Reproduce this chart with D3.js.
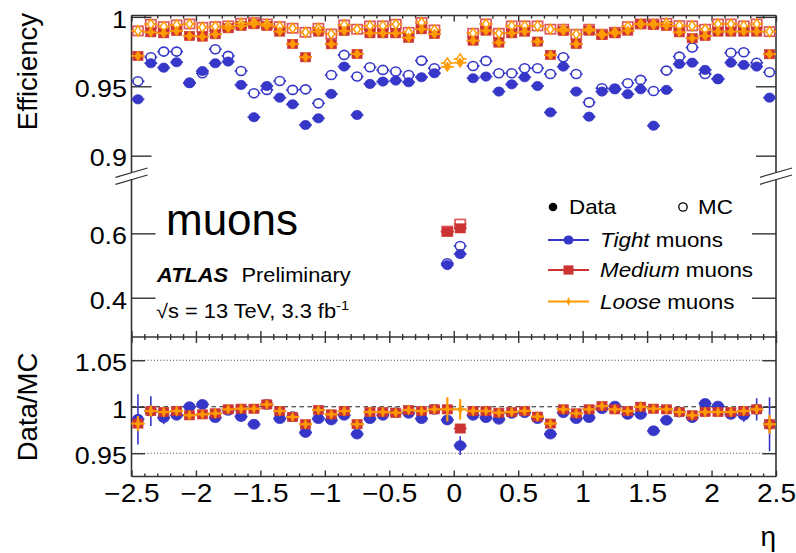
<!DOCTYPE html>
<html>
<head>
<meta charset="utf-8">
<script src="https://cdn.jsdelivr.net/npm/d3@7"></script>
<style>
  body { margin: 0; background: #fff; }
  svg text { font-family: "Liberation Sans", Arial, Helvetica, sans-serif; fill: #000; }
</style>
</head>
<body>
<svg id="chart" width="796" height="553"></svg>
<script>
// ---- data: muon reconstruction efficiency vs eta, bins of 0.1 ----
const etaBins = [-2.45,-2.35,-2.25,-2.15,-2.05,-1.95,-1.85,-1.75,-1.65,-1.55,
                 -1.45,-1.35,-1.25,-1.15,-1.05,-0.95,-0.85,-0.75,-0.65,-0.55,
                 -0.45,-0.35,-0.25,-0.15,-0.05, 0.05, 0.15, 0.25, 0.35, 0.45,
                  0.55, 0.65, 0.75, 0.85, 0.95, 1.05, 1.15, 1.25, 1.35, 1.45,
                  1.55, 1.65, 1.75, 1.85, 1.95, 2.05, 2.15, 2.25, 2.35, 2.45];

const tightData = [0.9406,0.9666,0.9634,0.9673,0.9522,0.9610,0.9666,0.9678,0.9510,0.9277,
                   0.9502,0.9418,0.9370,0.9221,0.9269,0.9445,0.9642,0.9293,0.9517,0.9534,
                   0.9541,0.9529,0.9565,0.9594,0.5016,0.5357,0.9558,0.9570,0.9462,0.9514,
                   0.9565,0.9502,0.9312,0.9642,0.9462,0.9281,0.9462,0.9478,0.9443,0.9478,
                   0.9216,0.9474,0.9661,0.9670,0.9618,0.9553,0.9670,0.9654,0.9642,0.9418];
const tightMC   = [0.9536,0.9709,0.9750,0.9750,0.9526,0.9594,0.9767,0.9719,0.9610,0.9450,
                   0.9474,0.9538,0.9474,0.9478,0.9377,0.9581,0.9726,0.9570,0.9637,0.9618,
                   0.9606,0.9581,0.9685,0.9630,0.5070,0.5606,0.9646,0.9683,0.9594,0.9594,
                   0.9630,0.9630,0.9589,0.9709,0.9589,0.9384,0.9486,0.9483,0.9522,0.9546,
                   0.9466,0.9613,0.9714,0.9779,0.9589,0.9553,0.9742,0.9745,0.9670,0.9601];
const mediumData = [0.9719,0.9889,0.9882,0.9899,0.9863,0.9858,0.9875,0.9918,0.9935,0.9947,
                    0.9935,0.9894,0.9805,0.9709,0.9894,0.9803,0.9899,0.9733,0.9882,0.9882,
                    0.9882,0.9850,0.9911,0.9877,0.6050,0.6155,0.9829,0.9901,0.9815,0.9882,
                    0.9894,0.9822,0.9726,0.9899,0.9805,0.9901,0.9870,0.9882,0.9901,0.9949,
                    0.9942,0.9935,0.9889,0.9846,0.9863,0.9894,0.9894,0.9894,0.9894,0.9731];
const mediumMC   = [0.9899,0.9947,0.9930,0.9942,0.9949,0.9925,0.9930,0.9935,0.9954,0.9959,
                    0.9949,0.9930,0.9918,0.9889,0.9918,0.9877,0.9942,0.9911,0.9935,0.9935,
                    0.9947,0.9889,0.9959,0.9906,0.6070,0.6290,0.9882,0.9949,0.9882,0.9935,
                    0.9935,0.9935,0.9911,0.9911,0.9875,0.9911,0.9875,0.9889,0.9930,0.9949,
                    0.9949,0.9954,0.9937,0.9935,0.9911,0.9949,0.9949,0.9935,0.9949,0.9894];
const looseData  = [0.9719,0.9889,0.9882,0.9899,0.9863,0.9858,0.9875,0.9918,0.9935,0.9947,
                    0.9935,0.9894,0.9805,0.9709,0.9894,0.9803,0.9899,0.9733,0.9882,0.9882,
                    0.9882,0.9850,0.9911,0.9877,0.9640,0.9670,0.9829,0.9901,0.9815,0.9882,
                    0.9894,0.9822,0.9726,0.9899,0.9805,0.9901,0.9870,0.9882,0.9901,0.9949,
                    0.9942,0.9935,0.9889,0.9846,0.9863,0.9894,0.9894,0.9894,0.9894,0.9731];
const looseMC    = [0.9899,0.9947,0.9930,0.9942,0.9949,0.9925,0.9930,0.9935,0.9954,0.9959,
                    0.9949,0.9930,0.9918,0.9889,0.9918,0.9877,0.9942,0.9911,0.9935,0.9935,
                    0.9947,0.9889,0.9959,0.9906,0.9668,0.9697,0.9882,0.9949,0.9882,0.9935,
                    0.9935,0.9935,0.9911,0.9911,0.9875,0.9911,0.9875,0.9889,0.9930,0.9949,
                    0.9949,0.9954,0.9937,0.9935,0.9911,0.9949,0.9949,0.9935,0.9949,0.9894];

// Data/MC scale factors
const tightRatio  = [0.9865,0.9954,0.9883,0.9908,1.0000,1.0025,0.9883,0.9961,0.9894,0.9812,
                     1.0025,0.9872,0.9894,0.9723,0.9872,0.9858,0.9908,0.9706,0.9872,0.9908,
                     0.9936,0.9929,0.9872,0.9972,0.9858,0.9582,0.9908,0.9883,0.9865,0.9929,
                     0.9936,0.9872,0.9706,0.9936,0.9872,0.9883,0.9979,1.0007,0.9918,0.9918,
                     0.9741,0.9855,0.9943,0.9883,1.0035,1.0007,0.9918,0.9908,0.9972,0.9812];
const mediumRatio = [0.9819,0.9954,0.9943,0.9954,0.9908,0.9918,0.9929,0.9972,0.9979,0.9979,
                     1.0025,0.9954,0.9890,0.9812,0.9965,0.9918,0.9954,0.9812,0.9943,0.9943,
                     0.9936,0.9965,0.9954,0.9972,0.9972,0.9766,0.9954,0.9954,0.9936,0.9943,
                     0.9954,0.9894,0.9819,0.9972,0.9929,0.9972,1.0007,0.9972,0.9954,1.0000,
                     0.9979,0.9972,0.9943,0.9908,0.9943,0.9943,0.9943,0.9954,0.9972,0.9812];
const looseRatio  = [0.9819,0.9954,0.9943,0.9954,0.9908,0.9918,0.9929,0.9972,0.9979,0.9979,
                     1.0025,0.9954,0.9890,0.9812,0.9965,0.9918,0.9954,0.9812,0.9943,0.9943,
                     0.9936,0.9965,0.9954,0.9972,0.9972,0.9972,0.9954,0.9954,0.9936,0.9943,
                     0.9954,0.9894,0.9819,0.9972,0.9929,0.9972,1.0007,0.9972,0.9954,1.0000,
                     0.9979,0.9972,0.9943,0.9908,0.9943,0.9943,0.9943,0.9954,0.9972,0.9812];
// statistical uncertainties on the scale factors
const tightRatioErr  = [0.027,0.016,0.007,0.005,0.003,0.003,0.003,0.003,0.003,0.003,
                        0.003,0.003,0.003,0.003,0.003,0.003,0.003,0.003,0.003,0.003,
                        0.003,0.003,0.003,0.003,0.005,0.010,0.003,0.003,0.003,0.003,
                        0.003,0.003,0.003,0.003,0.003,0.003,0.003,0.003,0.003,0.003,
                        0.003,0.003,0.003,0.003,0.003,0.003,0.004,0.007,0.012,0.029];
const mediumRatioErr = [0.008,0.005,0.002,0.002,0.002,0.002,0.002,0.002,0.002,0.002,
                        0.002,0.002,0.002,0.002,0.002,0.002,0.002,0.002,0.002,0.002,
                        0.002,0.002,0.002,0.002,0.003,0.003,0.002,0.002,0.002,0.002,
                        0.002,0.002,0.002,0.002,0.002,0.002,0.002,0.002,0.002,0.002,
                        0.002,0.002,0.002,0.002,0.002,0.002,0.002,0.002,0.004,0.009];
const looseRatioErr  = [0.008,0.006,0.002,0.002,0.002,0.002,0.002,0.002,0.002,0.002,
                        0.002,0.002,0.002,0.002,0.002,0.002,0.002,0.002,0.002,0.002,
                        0.002,0.002,0.002,0.002,0.013,0.011,0.002,0.002,0.002,0.002,
                        0.002,0.002,0.002,0.002,0.002,0.002,0.002,0.002,0.002,0.002,
                        0.002,0.002,0.002,0.002,0.002,0.002,0.002,0.002,0.005,0.010];

const binHalfWidth = 0.05;
const xMajorTicks = [-2.5,-2,-1.5,-1,-0.5,0,0.5,1,1.5,2,2.5];
const xTickLabels = ["\u22122.5","\u22122","\u22121.5","\u22121","\u22120.5","0","0.5","1","1.5","2","2.5"];
const yHiTicks = [0.9, 0.95, 1];
const yHiLabels = ["0.9", "0.95", "1"];
const yLoTicks = [0.4, 0.6];
const yLoLabels = ["0.4", "0.6"];
const yRatioTicks = [0.95, 1, 1.05];
const yRatioLabels = ["0.95", "1", "1.05"];

// ---- layout ----
const svg = d3.select("#chart");
const L = 131.5, R = 776, TOP = 15.5, MID = 337, BOT = 476.5;
const breakHi = 172.6, breakLo = 179.7;
const frameColor = "#333";
const SX = 1.12; // horizontal stretch of the label lettering

const blue = "#3636c8", red = "#cc3333", redOpen = "#dd5a5a", orange = "#ff9a00";

const x = d3.scaleLinear().domain([-2.5, 2.5]).range([L, R]);
const yHi = d3.scaleLinear().domain([0.886, 1.001]).range([175.1, TOP]);
const yLo = d3.scaleLinear().domain([0.278, 0.772]).range([MID, 178]);
const yR  = d3.scaleLinear().domain([0.925, 1.075]).range([BOT, MID]);
const yEff = v => (v > 0.8 ? yHi(v) : yLo(v));

const minorTicks = d3.range(-25, 26).map(i => i / 10).filter(v => Math.abs(v * 2 - Math.round(v * 2)) > 1e-6);

function stretch(sel) {
  sel.each(function () {
    const t = d3.select(this);
    const tx = +t.attr("x") || 0, ty = +t.attr("y") || 0;
    t.attr("x", 0).attr("y", 0).attr("transform", `translate(${tx},${ty}) scale(${SX},1)`);
  });
}
function styleAxis(g) {
  g.select(".domain").remove();
  g.selectAll(".tick line").attr("stroke", frameColor).attr("stroke-width", 1.4);
}

// ---- ratio panel reference lines ----
const gRef = svg.append("g");
[0.95, 1.05].forEach(v => {
  gRef.append("line").attr("x1", L).attr("x2", R).attr("y1", yR(v)).attr("y2", yR(v))
    .attr("stroke", "#444").attr("stroke-width", 1).attr("stroke-dasharray", "1,2.2");
});
gRef.append("line").attr("x1", L).attr("x2", R).attr("y1", yR(1)).attr("y2", yR(1))
  .attr("stroke", "#222").attr("stroke-width", 1.2).attr("stroke-dasharray", "4.5,3.5");

// ---- x tick marks on every horizontal edge ----
function xEdge(y, down) {
  const make = down ? d3.axisBottom : d3.axisTop;
  svg.append("g").attr("transform", `translate(0,${y})`)
    .call(make(x).tickValues(minorTicks).tickSize(3).tickFormat("")).call(styleAxis);
  svg.append("g").attr("transform", `translate(0,${y})`)
    .call(make(x).tickValues(xMajorTicks).tickSize(6).tickFormat("")).call(styleAxis);
}
xEdge(TOP, true);
xEdge(MID, false);
xEdge(MID, true);
xEdge(BOT, false);

// x tick labels
svg.append("g").attr("transform", `translate(0,${BOT})`)
  .call(d3.axisBottom(x).tickValues(xMajorTicks).tickSize(0).tickPadding(7.8)
    .tickFormat((d, i) => xTickLabels[i]))
  .call(g => g.select(".domain").remove())
  .call(g => g.selectAll("text").attr("font-size", 25).attr("font-family", "Liberation Sans, Arial, sans-serif").attr("fill", "#000").call(stretch));

// ---- y axes ----
function yAxisPair(scale, ticks, labels, len, fontSize) {
  svg.append("g").attr("transform", `translate(${L},0)`)
    .call(d3.axisLeft(scale).tickValues(ticks).tickSize(-len).tickPadding(4.5)
      .tickFormat((d, i) => labels[i]))
    .call(styleAxis)
    .call(g => g.selectAll("text").attr("font-size", fontSize).attr("dy", null)
      .attr("font-family", "Liberation Sans, Arial, sans-serif").attr("fill", "#000")
      .attr("y", 10.3).call(stretch));
  svg.append("g").attr("transform", `translate(${R},0)`)
    .call(d3.axisRight(scale).tickValues(ticks).tickSize(-len).tickFormat(""))
    .call(styleAxis);
}
yAxisPair(yHi, yHiTicks, yHiLabels, 20, 24);
yAxisPair(yLo, yLoTicks, yLoLabels, 24, 24);
yAxisPair(yR, yRatioTicks, yRatioLabels, 13.5, 24);

// ---- frames with axis breaks ----
const gFrame = svg.append("g").attr("stroke", frameColor).attr("stroke-width", 1.6).attr("fill", "none");
gFrame.append("line").attr("x1", L).attr("x2", R).attr("y1", TOP).attr("y2", TOP);
gFrame.append("line").attr("x1", L).attr("x2", R).attr("y1", MID).attr("y2", MID);
gFrame.append("line").attr("x1", L).attr("x2", R).attr("y1", BOT).attr("y2", BOT);
[L, R].forEach(xx => {
  gFrame.append("line").attr("x1", xx).attr("x2", xx).attr("y1", TOP).attr("y2", breakHi);
  gFrame.append("line").attr("x1", xx).attr("x2", xx).attr("y1", breakLo).attr("y2", BOT);
  [[177.3, 168.0], [184.3, 175.0]].forEach(([ya, yb]) => {
    gFrame.append("line").attr("x1", xx - 16).attr("y1", ya).attr("x2", xx + 16).attr("y2", yb)
      .attr("stroke-width", 1.2);
  });
});

// ---- markers ----
function diamondPath(cx, cy, hw, hh) {
  return `M${cx},${cy - hh}L${cx + hw},${cy}L${cx},${cy + hh}L${cx - hw},${cy}Z`;
}
function drawMarkers(g, vals, yFn, kind, filled, color, opts = {}) {
  const pts = vals.map((v, i) => ({ eta: etaBins[i], v, err: opts.err ? opts.err[i] : 0 }));
  const sel = g.append("g").selectAll("g").data(pts).join("g");
  const s = opts.size || 1;
  // hollow markers leave their interior free of the bin-width bar
  const gap = filled ? 0 : (kind === "circle" ? 4.9 : kind === "square" ? 5.1 : 0) * s;
  [-1, 1].forEach(side => {
    sel.append("line")
      .attr("x1", d => x(d.eta) + side * gap)
      .attr("x2", d => x(d.eta + side * binHalfWidth))
      .attr("y1", d => yFn(d.v)).attr("y2", d => yFn(d.v))
      .attr("stroke", color).attr("stroke-width", opts.barWidth || 1.6);
  });
  // vertical uncertainty bars
  if (opts.err) {
    sel.append("line")
      .attr("x1", d => x(d.eta)).attr("x2", d => x(d.eta))
      .attr("y1", d => yFn(d.v - d.err)).attr("y2", d => yFn(d.v + d.err))
      .attr("stroke", color).attr("stroke-width", opts.barWidth || 1.6);
  }
  if (kind === "circle") {
    sel.append("ellipse").attr("cx", d => x(d.eta)).attr("cy", d => yFn(d.v))
      .attr("rx", (filled ? 5.2 : 4.9) * s).attr("ry", (filled ? 4.6 : 4.5) * s)
      .attr("fill", filled ? color : "none").attr("stroke", color).attr("stroke-width", filled ? 0.8 : 1.6);
  } else if (kind === "square") {
    const w = 10.2 * s, h = 9.2 * s;
    sel.append("rect").attr("x", d => x(d.eta) - w / 2).attr("y", d => yFn(d.v) - h / 2)
      .attr("width", w).attr("height", h)
      .attr("fill", filled ? color : "none").attr("stroke", filled ? color : redOpen)
      .attr("stroke-width", filled ? 0.6 : 1.7);
  } else {
    const hw = (opts.hw || 3.4) * s, hh = (opts.hh || 5) * s;
    sel.append("path").attr("d", d => diamondPath(x(d.eta), yFn(d.v), hw, hh))
      .attr("fill", filled ? color : "#fff").attr("stroke", color).attr("stroke-width", filled ? 0.6 : 1.5);
  }
}

// efficiency panel
const gEff = svg.append("g");
drawMarkers(gEff, tightMC, yEff, "circle", false, blue);
drawMarkers(gEff, tightData, yEff, "circle", true, blue);
drawMarkers(gEff, mediumMC, yEff, "square", false, redOpen);
drawMarkers(gEff, mediumData, yEff, "square", true, red);
drawMarkers(gEff, looseMC, yEff, "diamond", false, orange);
drawMarkers(gEff, looseData, yEff, "diamond", true, orange, { barWidth: 1.8 });

// ratio panel
const gRat = svg.append("g");
drawMarkers(gRat, tightRatio, yR, "circle", true, blue, { err: tightRatioErr, size: 1.08 });
drawMarkers(gRat, mediumRatio, yR, "square", true, red, { err: mediumRatioErr });
drawMarkers(gRat, looseRatio, yR, "diamond", true, orange, { err: looseRatioErr, barWidth: 2.2, hw: 2.2, hh: 5.2 });

// ---- axis titles ----
svg.append("text").attr("transform", "translate(37,13) rotate(-90)")
  .attr("text-anchor", "end").attr("font-size", 27.5).text("Efficiency");
svg.append("text").attr("transform", "translate(37,407) rotate(-90)")
  .attr("text-anchor", "middle").attr("font-size", 27.5).text("Data/MC");
svg.append("text").attr("x", 776).attr("y", 546).attr("text-anchor", "end")
  .attr("font-size", 28).attr("font-family", "Liberation Serif, serif").text("\u03b7");

// ---- annotations ----
svg.append("text").attr("x", 166).attr("y", 235).attr("font-size", 44)
  .attr("font-family", "Open Sans, sans-serif").text("muons");

function stretchedText(xx, yy, size) {
  return svg.append("text").attr("transform", `translate(${xx},${yy}) scale(${SX},1)`).attr("font-size", size);
}
stretchedText(157, 282, 19.5).attr("font-weight", "bold").attr("font-style", "italic").text("ATLAS");
stretchedText(241.5, 282, 19.5).text("Preliminary");
const lumi = stretchedText(156, 318, 19.5);
lumi.append("tspan").text("\u221as = 13 TeV, 3.3 fb");
lumi.append("tspan").attr("font-size", 13).attr("dy", -8).text("-1");

// ---- legend ----
const gLeg = svg.append("g");
gLeg.append("circle").attr("cx", 553).attr("cy", 207).attr("r", 4.3).attr("fill", "#000");
gLeg.append("text").attr("transform", `translate(569,213.5) scale(${SX},1)`).attr("font-size", 20).text("Data");
gLeg.append("circle").attr("cx", 683).attr("cy", 207).attr("r", 4.2).attr("fill", "none").attr("stroke", "#000").attr("stroke-width", 1.3);
gLeg.append("text").attr("transform", `translate(698,213.5) scale(${SX},1)`).attr("font-size", 20).text("MC");

const legendRows = [
  { name: "Tight", y: 240, color: blue, kind: "circle" },
  { name: "Medium", y: 270, color: red, kind: "square" },
  { name: "Loose", y: 301.5, color: orange, kind: "diamond" }
];
legendRows.forEach(r => {
  gLeg.append("line").attr("x1", 548).attr("x2", 589).attr("y1", r.y).attr("y2", r.y)
    .attr("stroke", r.color).attr("stroke-width", 2);
  if (r.kind === "circle") {
    gLeg.append("ellipse").attr("cx", 568.5).attr("cy", r.y).attr("rx", 5).attr("ry", 4.6).attr("fill", r.color);
  } else if (r.kind === "square") {
    gLeg.append("rect").attr("x", 563.5).attr("y", r.y - 4.6).attr("width", 10).attr("height", 9.2).attr("fill", r.color);
  } else {
    gLeg.append("path").attr("d", diamondPath(568.5, r.y, 2, 4.5)).attr("fill", r.color);
  }
  const t = gLeg.append("text").attr("transform", `translate(600,${r.y + 7}) scale(${SX},1)`).attr("font-size", 20);
  t.append("tspan").attr("font-style", "italic").text(r.name);
  t.append("tspan").text(" muons");
});
</script>
</body>
</html>
